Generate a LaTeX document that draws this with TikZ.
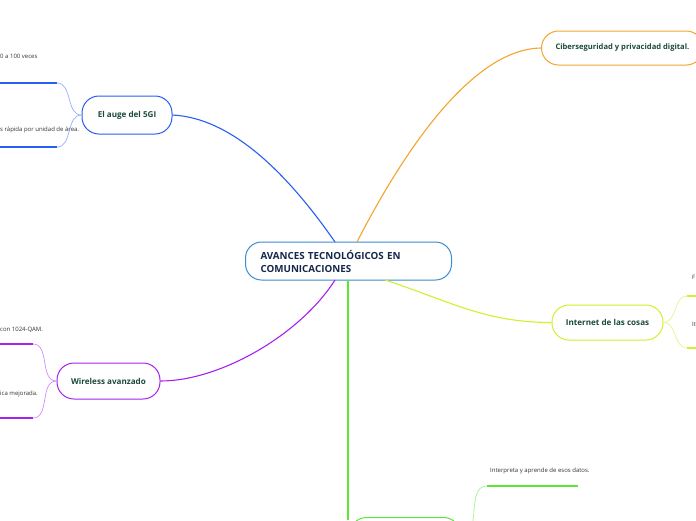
\documentclass[tikz,border=0pt]{standalone}
\usepackage{fontspec}
\setmainfont{Open Sans}
\definecolor{cblue}{HTML}{3D8CD0}
\definecolor{bblue}{HTML}{2A5EF0}
\definecolor{lblue}{HTML}{9AB0FF}
\definecolor{purp}{HTML}{A622EE}
\definecolor{lpurp}{HTML}{D08CFF}
\definecolor{orng}{HTML}{F6A52C}
\definecolor{ygrn}{HTML}{D2F02C}
\definecolor{lygrn}{HTML}{E4F590}
\definecolor{grn}{HTML}{5AE834}
\definecolor{lgrn}{HTML}{A8F290}
\definecolor{tgreen}{HTML}{1B4A3C}
\definecolor{tnavy}{HTML}{16284A}
\definecolor{tgray}{HTML}{333333}
\tikzset{
  topic/.style={draw, line width=1pt, rounded corners=17, fill=white, text=tgreen,
    font=\bfseries\fontsize{8.1}{9}\selectfont, inner sep=0pt},
  conn/.style={line width=1.1pt},
  subline/.style={line width=1.8pt},
  twig/.style={line width=0.7pt},
  small/.style={font=\fontsize{6}{7}\selectfont, text=tgray, inner sep=0pt}
}
\begin{document}
\begin{tikzpicture}[x=1pt,y=-1pt]
\useasboundingbox (0,0) rectangle (696,520);
\clip (0,0) rectangle (696,520);
\fill[white] (0,0) rectangle (696,520);
% central
\node[topic, draw=cblue, text=tnavy, minimum width=206, minimum height=38, rounded corners=16,
  font=\bfseries\fontsize{9.8}{13}\selectfont, align=left, anchor=west, text width=206]
  (c) at (245,261) {\hspace*{15pt}AVANCES TECNOLÓGICOS EN\\\hspace*{15pt}COMUNICACIONES};
% topics
\node[topic, draw=bblue, minimum width=90, minimum height=38] (g5) at (127,115) {El auge del 5GI};
\node[topic, draw=purp, minimum width=103, minimum height=36] (wl) at (108.5,381) {Wireless avanzado};
\node[topic, draw=orng, minimum height=34, anchor=west, inner xsep=14pt,
  font=\bfseries\fontsize{7.6}{9}\selectfont] (cs) at (541,48) {Ciberseguridad y privacidad digital.};
\node[topic, draw=ygrn, minimum width=111, minimum height=35] (io) at (607.5,322.5) {Internet de las cosas};
\node[topic, draw=grn, minimum width=111, minimum height=36, anchor=north west] (ia) at (349,517) {};
% coordinates
\coordinate (cA) at (335,242);
\coordinate (cB) at (357,242);
\coordinate (cC) at (335,280);
\coordinate (cD) at (385,280);
\coordinate (cE) at (348,280);
\coordinate (cF) at (348,520);
% connectors
\draw[conn, bblue] (g5.east) .. controls (230,118) and (285,170) .. (cA);
\draw[conn, orng] (cB) .. controls (400,158) and (470,49) .. (cs.west);
\draw[conn, purp] (cC) .. controls (300,335) and (220,381) .. (wl.east);
\draw[conn, ygrn] (cD) to[out=-18, in=180] (io.west);
\draw[conn, grn] (cE) -- (cF);
% 5G branches
\coordinate (g5u) at (57,83);
\coordinate (g5d) at (57,147);
\draw[twig, lblue] (g5.west) to[out=180, in=0] (g5u);
\draw[twig, lblue] (g5.west) to[out=180, in=0] (g5d);
\draw[subline, bblue] (g5u) -- (0,83);
\draw[subline, bblue] (g5d) -- (0,147);
\node[small, anchor=west] (t1) at (0,56) {0 a 100 veces};
\node[small, anchor=west] (t2) at (0,130) {s rápida por unidad de área.};
% wireless branches
\coordinate (wlu) at (33,344);
\coordinate (wld) at (33,418);
\draw[twig, lpurp] (wl.west) to[out=180, in=0] (wlu);
\draw[twig, lpurp] (wl.west) to[out=180, in=0] (wld);
\draw[subline, purp] (wlu) -- (0,344);
\draw[subline, purp] (wld) -- (0,418);
\node[small, anchor=west] (t3) at (0,330) {con 1024-QAM.};
\node[small, anchor=west] (t4) at (0,394) {ica mejorada.};
% IoT branches
\coordinate (iou) at (687,296);
\coordinate (iod) at (687,348);
\draw[twig, lygrn] (io.east) to[out=0, in=180] (iou);
\draw[twig, lygrn] (io.east) to[out=0, in=180] (iod);
\draw[subline, ygrn] (iou) -- (700,296);
\draw[subline, ygrn] (iod) -- (700,348);
\node[small, anchor=west] (t5) at (692,277) {F};
\node[small, anchor=west] (t6) at (692,324) {It};
% green branch
\coordinate (iau) at (487,486);
\draw[twig, lgrn] (ia.east) to[out=0, in=180] (iau);
\draw[subline, grn] (iau) -- (578,486);
\node[small, anchor=west] (t7) at (490,471) {Interpreta y aprende de esos datos.};
\end{tikzpicture}
\end{document}
